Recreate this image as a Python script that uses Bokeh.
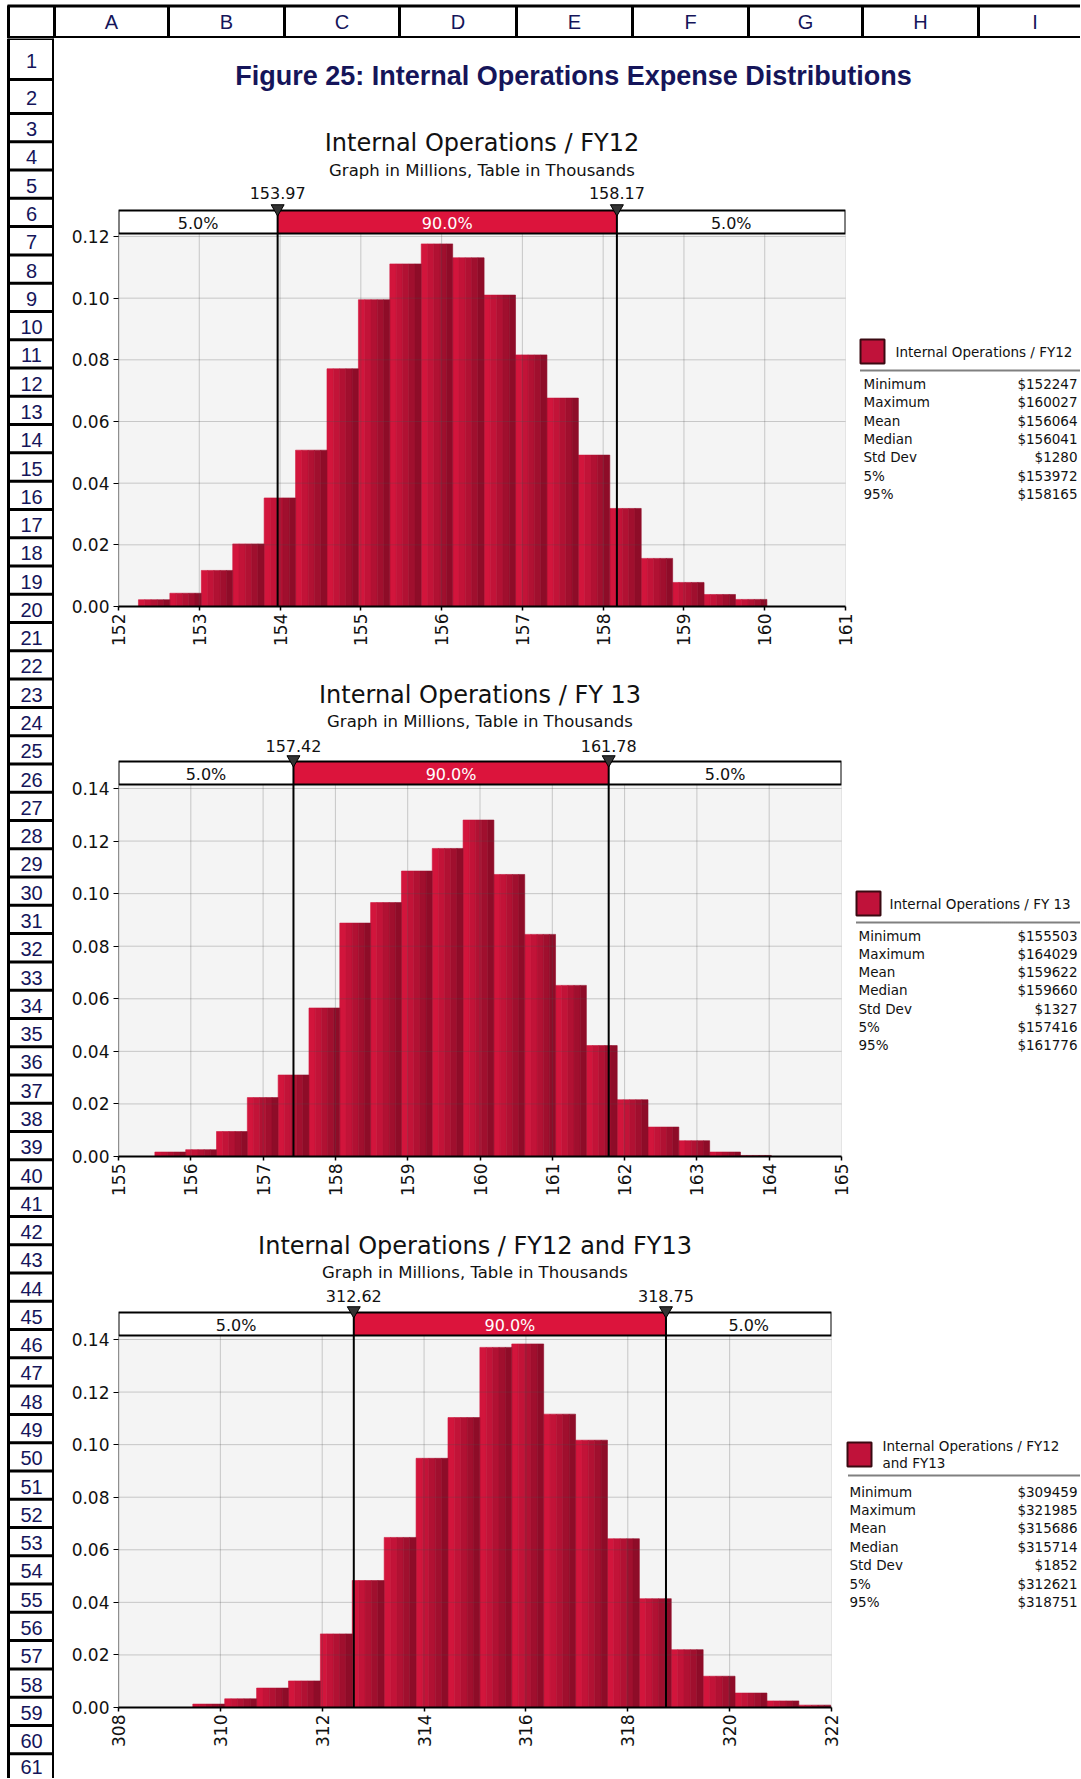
import math
from bokeh.plotting import figure
from bokeh.layouts import row, column
from bokeh.models import Range1d, FixedTicker, PrintfTickFormatter
from bokeh.core.properties import value
from bokeh.embed import file_html
from bokeh.resources import INLINE

# ---------------- data ----------------
fig_title = "Figure 25: Internal Operations Expense Distributions"
col_letters = ["A", "B", "C", "D", "E", "F", "G", "H", "I"]
row_numbers = list(range(1, 62))

subtitle = "Graph in Millions, Table in Thousands"
band_pct = ["5.0%", "90.0%", "5.0%"]
stat_names = ["Minimum", "Maximum", "Mean", "Median", "Std Dev", "5%", "95%"]

title_fy12 = "Internal Operations / FY12"
legend_fy12 = ["Internal Operations / FY12"]
stats_fy12 = [152247, 160027, 156064, 156041, 1280, 153972, 158165]
marks_fy12 = [153.97, 158.17]
probs_fy12 = [0.0022, 0.0043, 0.0117, 0.0203, 0.0352, 0.0507, 0.0771, 0.0995, 0.1111, 0.1176,
              0.1131, 0.1010, 0.0816, 0.0676, 0.0491, 0.0318, 0.0156, 0.0078, 0.0039, 0.0023]
xticks_fy12 = [152, 153, 154, 155, 156, 157, 158, 159, 160, 161]
yticks_fy12 = [0.00, 0.02, 0.04, 0.06, 0.08, 0.10, 0.12]

title_fy13 = "Internal Operations / FY 13"
legend_fy13 = ["Internal Operations / FY 13"]
stats_fy13 = [155503, 164029, 159622, 159660, 1327, 157416, 161776]
marks_fy13 = [157.42, 161.78]
probs_fy13 = [0.0017, 0.0026, 0.0095, 0.0224, 0.0310, 0.0565, 0.0888, 0.0966, 0.1086, 0.1172,
              0.1280, 0.1073, 0.0845, 0.0651, 0.0422, 0.0216, 0.0112, 0.0060, 0.0017, 0.0004]
xticks_fy13 = [155, 156, 157, 158, 159, 160, 161, 162, 163, 164, 165]
yticks_fy13 = [0.00, 0.02, 0.04, 0.06, 0.08, 0.10, 0.12, 0.14]

title_tot = "Internal Operations / FY12 and FY13"
legend_tot = ["Internal Operations / FY12", "and FY13"]
stats_tot = [309459, 321985, 315686, 315714, 1852, 312621, 318751]
marks_tot = [312.62, 318.75]
probs_tot = [0.0013, 0.0033, 0.0074, 0.0101, 0.0280, 0.0483, 0.0647, 0.0948, 0.1103, 0.1370,
             0.1383, 0.1116, 0.1017, 0.0642, 0.0414, 0.0220, 0.0119, 0.0055, 0.0025, 0.0009]
xticks_tot = [308, 310, 312, 314, 316, 318, 320, 322]
yticks_tot = [0.00, 0.02, 0.04, 0.06, 0.08, 0.10, 0.12, 0.14]

# ---------------- style ----------------
NAVY = "#15155a"
FONT = "DejaVu Sans"
ARIAL = "Liberation Sans"
TXT = "#111111"
STRIPES = ["#d2153c", "#c21338", "#b11133", "#a00f2e", "#8e0c28"]

PAGE_W, PAGE_H = 1080, 1778
HDR_H, RH_W = 38, 54
CONTENT_W = PAGE_W - RH_W


def blank(w, h, x0, x1, y0, y1, bg="white", **kw):
    p = figure(width=w, height=h, x_range=Range1d(x0, x1), y_range=Range1d(y0, y1),
               x_axis_type=None, y_axis_type=None, toolbar_location=None,
               output_backend="svg", min_border=0, outline_line_color=None,
               background_fill_color=bg, border_fill_color=bg, **kw)
    p.grid.visible = False
    return p


# ---------- column header (page coords) ----------
ch = blank(PAGE_W, HDR_H, 0, PAGE_W, HDR_H, 0)
col_bounds = [54, 168, 284, 399, 516, 632, 748, 862, 978, 1091]
ch.segment(x0=col_bounds[:-1], x1=col_bounds[:-1], y0=[5] * 9, y1=[38] * 9,
           line_color="black", line_width=3)
ch.segment(x0=[7, 7], x1=[PAGE_W, PAGE_W], y0=[5.5, 37], y1=[5.5, 37],
           line_color="black", line_width=3)
ch.segment(x0=[8], x1=[8], y0=[5], y1=[38], line_color="black", line_width=3)
ch.text(x=[(col_bounds[i] + col_bounds[i + 1]) / 2 for i in range(9)], y=[21.5] * 9,
        text=col_letters, text_font=value(ARIAL), text_font_size="20px",
        text_color=NAVY, text_align="center", text_baseline="middle")

# ---------- row header (page coords) ----------
rh = blank(RH_W, PAGE_H - HDR_H, 0, RH_W, PAGE_H, HDR_H)
tops = [38, 79] + [113 + k * 28.28 for k in range(0, 60)]
rh.segment(x0=[7] * len(tops), x1=[54] * len(tops), y0=tops, y1=tops,
           line_color="black", line_width=3)
rh.segment(x0=[8, 53], x1=[8, 53], y0=[38, 38], y1=[PAGE_H, PAGE_H],
           line_color="black", line_width=3)
centers = [min((tops[i] + tops[i + 1]) / 2 + 1.5, PAGE_H - 12) for i in range(len(row_numbers))]
rh.text(x=[31] * len(row_numbers), y=centers, text=[str(n) for n in row_numbers],
        text_font=value(ARIAL), text_font_size="20px", text_color=NAVY,
        text_align="center", text_baseline="middle")

# ---------- title band ----------
band0 = blank(CONTENT_W, 73, 54, PAGE_W, 111, 38)
band0.text(x=[573], y=[75], text=[fig_title], text_font=value(ARIAL),
           text_font_size="27px", text_font_style="bold", text_color=NAVY,
           text_align="center", text_baseline="middle")


def navy():
    return blank(CONTENT_W, 2, 0, 1, 0, 1, bg=NAVY)


def hist_section(title, stats, marks, probs, xt, yt, lay):
    xr0, xr1 = xt[0], xt[-1]
    fh, fw, sh = lay["frame_h"], lay["frame_w"], lay["sec_h"]
    L, R = 64, 10
    y_end = yt[-1] * fh / (fh - lay["tick_top"])
    p = figure(width=L + fw + R, height=sh, x_range=Range1d(xr0, xr1),
               y_range=Range1d(0, y_end), toolbar_location=None, output_backend="svg",
               min_border_left=L, min_border_right=R, min_border_top=0,
               min_border_bottom=sh - fh, outline_line_color=None,
               background_fill_color="white", border_fill_color="white")
    p.extra_y_ranges = {"px": Range1d(fh, 0)}
    p.grid.visible = False

    # plot area background
    p.quad(left=[xr0], right=[xr1], top=[lay["gray_top"]], bottom=[fh],
           y_range_name="px", fill_color="#f4f4f4", line_color=None)

    # histogram bars (20 bins between min and max)
    lo, hi = stats[0] / 1000.0, stats[1] / 1000.0
    n = len(probs)
    w = (hi - lo) / n
    lefts = [lo + i * w for i in range(n)]
    ns = len(STRIPES)
    for s, c in enumerate(STRIPES):
        p.quad(left=[l + w * s / ns for l in lefts], right=[l + w * (s + 1) / ns for l in lefts],
               top=probs, bottom=[0] * n, fill_color=c, line_color=c, line_width=0.6)

    # grid lines (drawn over the bars)
    inner = xt[1:]
    p.segment(x0=inner, x1=inner, y0=[lay["gray_top"]] * len(inner), y1=[fh] * len(inner),
              y_range_name="px", line_color="#505050", line_alpha=0.55, line_width=1,
              line_dash="1 1")
    hy = yt[1:]
    p.segment(x0=[xr0] * len(hy), x1=[xr1] * len(hy), y0=hy, y1=hy,
              line_color="#505050", line_alpha=0.55, line_width=1, line_dash="1 1")
    p.segment(x0=[xr0], x1=[xr0], y0=[lay["gray_top"]], y1=[fh], y_range_name="px",
              line_color="#222222", line_width=1.2)

    # percentile band
    m0, m1 = marks
    bt, bb = lay["bar_top"], lay["bar_bot"]
    p.quad(left=[xr0, m0, m1], right=[m0, m1, xr1], top=[bt] * 3, bottom=[bb] * 3,
           y_range_name="px", fill_color=["white", "#dc143c", "white"], line_color=None)
    p.quad(left=[xr0], right=[xr1], top=[bt], bottom=[bb], y_range_name="px",
           fill_color=None, line_color="black", line_width=2)
    p.text(x=[(xr0 + m0) / 2, (m0 + m1) / 2, (m1 + xr1) / 2], y=[(bt + bb) / 2 + 1] * 3,
           text=band_pct, y_range_name="px", text_font=value(FONT), text_font_size="16px",
           text_color=[TXT, "white", TXT], text_align="center", text_baseline="middle")
    p.segment(x0=marks, x1=marks, y0=[bt - 4] * 2, y1=[fh] * 2, y_range_name="px",
              line_color="black", line_width=2)
    p.scatter(x=marks, y=[bt - 2] * 2, y_range_name="px", marker="inverted_triangle",
              size=13, fill_color="#333333", line_color="black", line_width=1)
    p.text(x=marks, y=[lay["lab_y"]] * 2, text=["%.2f" % m for m in marks],
           y_range_name="px", text_font=value(FONT), text_font_size="16px",
           text_color=TXT, text_align="center", text_baseline="middle")

    # titles
    xc = (xr0 + xr1) / 2
    p.text(x=[xc], y=[lay["title_y"]], text=[title], y_range_name="px",
           text_font=value(FONT), text_font_size="24px", text_color=TXT,
           text_align="center", text_baseline="middle")
    p.text(x=[xc], y=[lay["sub_y"]], text=[subtitle], y_range_name="px",
           text_font=value(FONT), text_font_size="16.5px", text_color=TXT,
           text_align="center", text_baseline="middle")

    # axes
    xa = p.xaxis[0]
    xa.ticker = FixedTicker(ticks=xt)
    xa.major_label_orientation = math.pi / 2
    xa.major_label_text_font = FONT
    xa.major_label_text_font_size = "17px"
    xa.major_label_text_color = TXT
    xa.axis_line_color = "black"
    xa.axis_line_width = 2
    xa.major_tick_out = 4
    xa.major_tick_in = 0
    xa.major_tick_line_color = "black"
    xa.major_tick_line_width = 1.5
    xa.minor_tick_line_color = None
    xa.major_label_standoff = 3

    ya = p.yaxis[0]
    ya.ticker = FixedTicker(ticks=yt)
    ya.formatter = PrintfTickFormatter(format="%.2f")
    ya.major_label_text_font = FONT
    ya.major_label_text_font_size = "17px"
    ya.major_label_text_color = TXT
    ya.axis_line_color = None
    ya.major_tick_out = 5
    ya.major_tick_in = 0
    ya.major_tick_line_color = "black"
    ya.minor_tick_line_color = None
    ya.major_label_standoff = 4
    return p


def legend_panel(w, names, stats, lay, leg):
    fh, sh = lay["frame_h"], lay["sec_h"]
    # same frame height as the neighbouring histogram (rows align frames)
    p = figure(width=w, height=sh, x_range=Range1d(0, w), y_range=Range1d(fh, 0),
               x_axis_type=None, y_axis_type=None, toolbar_location=None,
               output_backend="svg", min_border_left=0, min_border_right=0,
               min_border_top=0, min_border_bottom=sh - fh, outline_line_color=None,
               background_fill_color="white", border_fill_color="white")
    p.grid.visible = False
    sx, sy = leg["sq_x"], leg["sq_y"]
    p.quad(left=[sx], right=[sx + 24], top=[sy], bottom=[sy + 24],
           fill_color="#c0123a", line_color="#3a0a12", line_width=2)
    p.text(x=[leg["lab_x"]] * len(names), y=leg["lab_y"], text=names,
           text_font=value(FONT), text_font_size="13.5px", text_color=TXT,
           text_align="left", text_baseline="middle")
    p.segment(x0=[leg["sep_x"]], x1=[w], y0=[leg["sep_y"]], y1=[leg["sep_y"]],
              line_color="black", line_width=2, line_dash="1 1")
    ys = [leg["st_y"] + i * leg["st_dy"] for i in range(len(stat_names))]
    p.text(x=[leg["st_x"]] * len(ys), y=ys, text=stat_names, text_font=value(FONT),
           text_font_size="13.5px", text_color=TXT, text_align="left", text_baseline="middle")
    p.text(x=[w - 3] * len(ys), y=ys, text=["$%d" % v for v in stats], text_font=value(FONT),
           text_font_size="13.5px", text_color=TXT, text_align="right", text_baseline="middle")
    return p


lay1 = dict(frame_h=493, frame_w=727, sec_h=548, title_y=29, sub_y=57, lab_y=79,
            bar_top=97, bar_bot=120, gray_top=121, tick_top=123)
lay2 = dict(frame_h=493, frame_w=723, sec_h=549, title_y=31, sub_y=58, lab_y=82,
            bar_top=98, bar_bot=121, gray_top=122, tick_top=125)
lay3 = dict(frame_h=493, frame_w=713, sec_h=551, title_y=31, sub_y=58, lab_y=81,
            bar_top=98, bar_bot=121, gray_top=122, tick_top=125)

leg1 = dict(sq_x=5, sq_y=226, lab_x=40, lab_y=[238], sep_x=5, sep_y=257, st_x=8, st_y=270.5, st_dy=18.3)
leg2 = dict(sq_x=5, sq_y=228, lab_x=38, lab_y=[240], sep_x=5, sep_y=259, st_x=7, st_y=272, st_dy=18.3)
leg3 = dict(sq_x=6, sq_y=228, lab_x=41, lab_y=[231, 248], sep_x=7, sep_y=261, st_x=8, st_y=277, st_dy=18.4)

h1 = hist_section(title_fy12, stats_fy12, marks_fy12, probs_fy12, xticks_fy12, yticks_fy12, lay1)
h2 = hist_section(title_fy13, stats_fy13, marks_fy13, probs_fy13, xticks_fy13, yticks_fy13, lay2)
h3 = hist_section(title_tot, stats_tot, marks_tot, probs_tot, xticks_tot, yticks_tot, lay3)

g1 = legend_panel(CONTENT_W - h1.width, legend_fy12, stats_fy12, lay1, leg1)
g2 = legend_panel(CONTENT_W - h2.width, legend_fy13, stats_fy13, lay2, leg2)
g3 = legend_panel(CONTENT_W - h3.width, legend_tot, stats_tot, lay3, leg3)

used = 73 + 2 + lay1["sec_h"] + 2 + lay2["sec_h"] + 2 + lay3["sec_h"] + 2
tail = blank(CONTENT_W, (PAGE_H - HDR_H) - used, 0, 1, 0, 1)

content = column(band0, navy(), row(h1, g1, spacing=0), navy(), row(h2, g2, spacing=0),
                 navy(), row(h3, g3, spacing=0), navy(), tail, spacing=0)
page = column(ch, row(rh, content, spacing=0), spacing=0)

open("out.html", "w").write(file_html(page, INLINE))
